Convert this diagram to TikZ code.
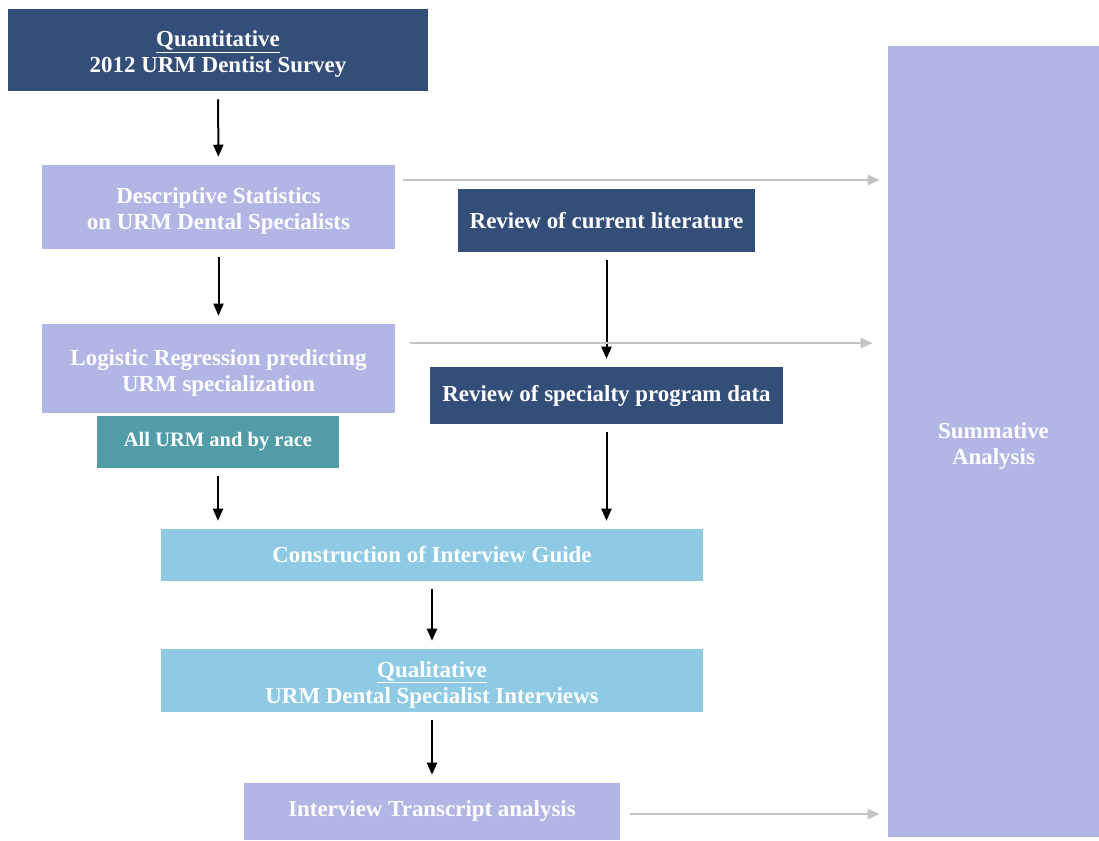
\documentclass[tikz,border=0pt]{standalone}
\usepackage{fontspec}
\setmainfont{Liberation Serif}
\usetikzlibrary{arrows.meta}
\usetikzlibrary{calc}
\definecolor{darkbox}{HTML}{344E7A}
\definecolor{lilacbox}{HTML}{B2B6E4}
\definecolor{tealbox}{HTML}{529CA8}
\definecolor{skybox}{HTML}{8FCAE4}
\definecolor{flowgray}{HTML}{C4C4C4}
\newcommand{\toprow}{\rule{0pt}{18pt}}
\tikzset{
  >={Triangle[length=9pt,width=7.5pt]},
  box/.style={draw=none,inner sep=0pt,align=center,text=white,
    font=\fontsize{17.2}{19.5}\selectfont\bfseries},
  darkstep/.style={box,fill=darkbox},
  lilacstep/.style={box,fill=lilacbox},
  tealstep/.style={box,fill=tealbox},
  skystep/.style={box,fill=skybox},
  flowline/.style={draw=black,line width=1.5pt,->,shorten <=6pt,shorten >=6pt},
  feedline/.style={draw=flowgray,line width=2pt,->}
}
\begin{document}
\begin{tikzpicture}[x=0.75pt,y=-0.75pt]
  \useasboundingbox (0,0) rectangle (1099,840);
  \node[darkstep,minimum width=315pt,minimum height=61.5pt] (QUANT) at (218,50)
    {\toprow\underline{Quantitative}\\2012 URM Dentist Survey};
  \node[lilacstep,minimum width=264.75pt,minimum height=63pt] (DESC) at (218.5,207)
    {\toprow Descriptive Statistics\\on URM Dental Specialists};
  \node[darkstep,minimum width=222.75pt,minimum height=47.25pt] (LIT) at (606.5,220.5)
    {Review of current literature};
  \node[lilacstep,minimum width=264.75pt,minimum height=66.75pt] (LOGIT) at (218.5,368.5)
    {\toprow Logistic Regression predicting\\URM specialization};
  \node[darkstep,minimum width=264.75pt,minimum height=42.75pt] (SPEC) at (606.5,395.5)
    {Review of specialty program data};
  \node[tealstep,minimum width=181.5pt,minimum height=39pt,
    font=\fontsize{15.4}{18}\selectfont\bfseries] (RACE) at (218,442)
    {All URM and by race};
  \node[skystep,minimum width=406.5pt,minimum height=39pt] (GUIDE) at (432,555)
    {Construction of Interview Guide};
  \node[skystep,minimum width=406.5pt,minimum height=47.25pt] (QUAL) at (432,680.5)
    {\toprow\underline{Qualitative}\\URM Dental Specialist Interviews};
  \node[lilacstep,minimum width=282pt,minimum height=42.75pt] (TRANS) at (432,811.5)
    {Interview Transcript analysis};
  \node[lilacstep,minimum width=158.25pt,minimum height=593.25pt] (SUMM) at (993.5,441.5)
    {\toprow Summative\\Analysis};

  \draw[flowline] (QUANT) -- (DESC);
  \draw[flowline] (DESC) -- (LOGIT);
  \draw[flowline] (LIT) -- (SPEC);
  \draw[flowline] (RACE.south) -- (RACE.south |- GUIDE.north);
  \draw[flowline] (SPEC.south) -- (SPEC.south |- GUIDE.north);
  \draw[flowline] (GUIDE) -- (QUAL);
  \draw[flowline] (QUAL) -- (TRANS);

  \coordinate (D1) at ($(DESC.east |- 0,180)+(8,0)$);
  \coordinate (L1) at ($(LOGIT.east |- 0,343)+(15,0)$);
  \coordinate (T1) at ($(TRANS.east)+(10,2.5)$);
  \draw[feedline] (D1) -- ($(SUMM.west |- D1)+(-8,0)$);
  \draw[feedline] (L1) -- ($(SUMM.west |- L1)+(-15,0)$);
  \draw[feedline] (T1) -- ($(SUMM.west |- T1)+(-8,0)$);
\end{tikzpicture}
\end{document}
